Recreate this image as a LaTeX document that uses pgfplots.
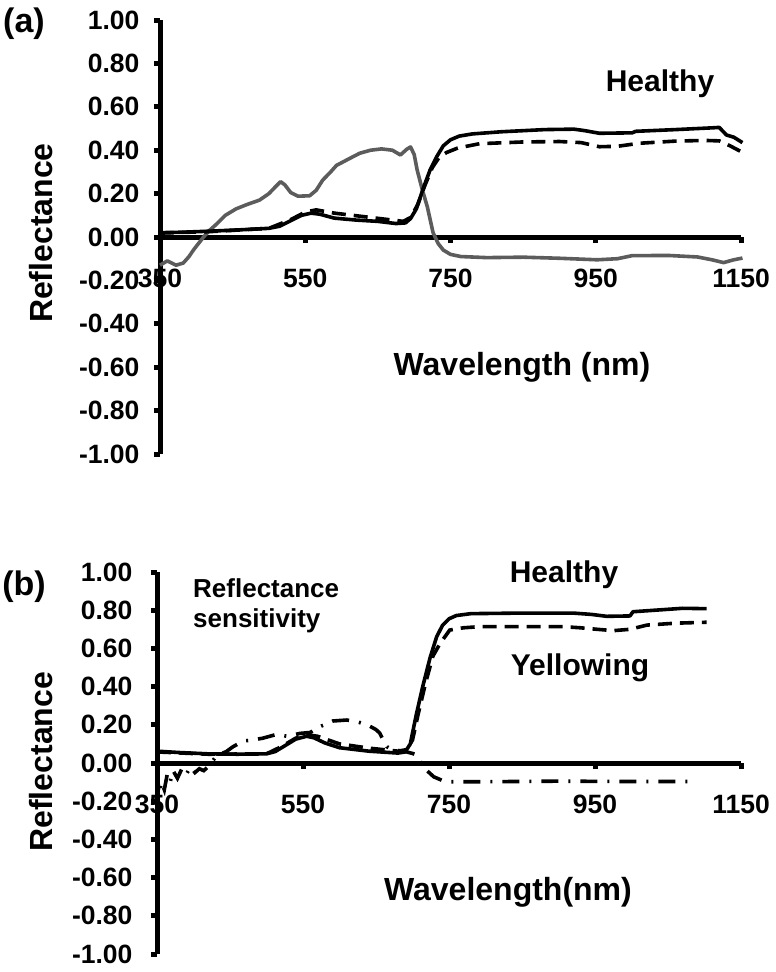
\documentclass[border=0pt]{standalone}
\usepackage{fontspec}
\setmainfont{Liberation Sans}
\usepackage{pgfplots}
\pgfplotsset{compat=1.18}

\definecolor{curvegray}{RGB}{92,92,92}

\pgfplotsset{
  panel/.style={
    axis x line*=middle,
    axis y line*=left,
    xmin=350, xmax=1150,
    ymin=-1, ymax=1,
    xtick={350,550,750,950,1150},
    ytick={-1,-0.8,...,1.01},
    hide obscured x ticks=false,
    hide obscured y ticks=false,
    axis line style={line width=5pt},
    tick style={line width=5pt, black},
    tick align=outside,
    major tick length=6pt,
    /pgf/number format/assume math mode=true,
    yticklabel style={/pgf/number format/fixed, /pgf/number format/fixed zerofill, /pgf/number format/precision=2},
    xticklabel style={/pgf/number format/fixed, /pgf/number format/precision=0, /pgf/number format/1000 sep={}},
    ticklabel style={font=\fontsize{26.5}{26.5}\selectfont\bfseries},
    label style={font=\fontsize{32}{32}\selectfont\bfseries},
    clip=false,
  },
  solidc/.style={black, line width=3.6pt, line join=round},
  dashc/.style={black, line width=3.6pt, dash pattern=on 14pt off 8pt},
  grayc/.style={curvegray, line width=3.6pt, line join=round},
  dotc/.style={black, line width=3.6pt, dash pattern=on 17pt off 10pt on 2pt off 10pt},
}

\begin{document}
\begin{tikzpicture}
\useasboundingbox (0,0) rectangle (776pt,-972pt);

% ---------- panel (a)
\begin{axis}[panel,
  x=0.72625pt, y=217pt,
  at={(160pt,-454pt)}, anchor=south west,
  xticklabel style={yshift=-22pt},
  yticklabel style={xshift=-11pt},
  xlabel={Wavelength (nm)},
  xlabel style={at={(axis description cs:0.623,0.180)}, anchor=base},
  ylabel={Reflectance},
  ylabel style={at={(axis description cs:-0.205,0.509)}, anchor=center, rotate=0},
]
\addplot[grayc] coordinates {
(350,-0.13) (360,-0.11) (372,-0.13) (382,-0.12) (390,-0.09) (396,-0.06)
(403,-0.03) (410,0.00) (418,0.03) (428,0.06) (440,0.10) (455,0.13)
(470,0.15) (487,0.17) (500,0.20) (510,0.235) (516,0.255) (522,0.24)
(530,0.205) (540,0.188) (556,0.19) (565,0.215) (574,0.262) (585,0.30)
(593,0.33) (610,0.36) (625,0.386) (640,0.40) (655,0.406) (670,0.400)
(681,0.378) (690,0.405) (695,0.415) (700,0.38) (704,0.31) (711,0.22)
(718,0.14) (726,0.02) (733,-0.03) (740,-0.06) (750,-0.08) (764,-0.09)
(800,-0.095) (850,-0.093) (900,-0.098) (952,-0.105) (980,-0.100)
(1000,-0.086) (1050,-0.085) (1090,-0.092) (1110,-0.105) (1126,-0.118)
(1140,-0.105) (1152,-0.097)
};
\addplot[dashc] coordinates {
(350,0.018) (420,0.025) (500,0.040) (530,0.080) (550,0.115) (565,0.125)
(590,0.110) (630,0.094) (670,0.078) (685,0.072) (695,0.090) (705,0.150)
(715,0.240) (725,0.320) (735,0.370) (745,0.390) (760,0.410) (790,0.430)
(850,0.438) (900,0.440) (930,0.435) (955,0.416) (980,0.418) (1010,0.432)
(1060,0.442) (1100,0.445) (1120,0.443) (1135,0.420) (1152,0.390)
};
\addplot[solidc] coordinates {
(350,0.020) (380,0.022) (420,0.027) (460,0.033) (500,0.040) (515,0.050)
(530,0.075) (545,0.100) (558,0.110) (570,0.105) (590,0.087) (620,0.078)
(650,0.072) (675,0.062) (688,0.065) (695,0.085) (703,0.130) (712,0.220)
(722,0.310) (731,0.370) (740,0.420) (750,0.448) (762,0.465) (780,0.475)
(820,0.485) (880,0.495) (920,0.497) (935,0.490) (955,0.478) (1000,0.480)
(1005,0.487) (1060,0.495) (1110,0.503) (1120,0.505) (1130,0.470)
(1140,0.460) (1152,0.435)
};
\end{axis}

% ---------- panel (b)
\begin{axis}[panel,
  x=0.73pt, y=191pt,
  at={(157pt,-954pt)}, anchor=south west,
  xticklabel style={yshift=-22pt},
  yticklabel style={xshift=-15pt},
  xlabel={Wavelength(nm)},
  xlabel style={at={(axis description cs:0.601,0.141)}, anchor=base},
  ylabel={Reflectance},
  ylabel style={at={(axis description cs:-0.199,0.503)}, anchor=center, rotate=0},
]
\addplot[dotc] coordinates {
(350,-0.05) (353,-0.16) (356,-0.10) (360,-0.14) (364,-0.06) (368,-0.10)
(372,-0.04) (378,-0.08) (384,-0.03) (390,-0.06) (396,-0.02) (402,-0.05)
(408,-0.03) (414,-0.04) (420,-0.02) (432,0.04) (445,0.06) (454,0.085)
(468,0.115) (480,0.12) (495,0.13) (514,0.15) (528,0.14) (546,0.155)
(560,0.160) (573,0.19) (591,0.22) (610,0.225) (625,0.215) (638,0.20)
(650,0.175) (655,0.157) (660,0.12) (665,0.085) (672,0.07) (690,0.06)
(700,0.05) (706,0.042) (712,0.00) (719,-0.037) (729,-0.072) (740,-0.090)
(748,-0.098) (800,-0.098) (900,-0.095) (1000,-0.097) (1090,-0.097)
};
\addplot[dashc] coordinates {
(350,0.058) (420,0.046) (500,0.048) (520,0.085) (540,0.130) (555,0.148)
(570,0.140) (600,0.100) (640,0.078) (680,0.062) (692,0.070) (700,0.120)
(708,0.260) (718,0.420) (728,0.560) (738,0.627) (751,0.696) (770,0.708)
(792,0.714) (906,0.714) (930,0.708) (953,0.700) (975,0.693) (998,0.700)
(1021,0.722) (1060,0.732) (1103,0.737)
};
\addplot[solidc] coordinates {
(350,0.062) (380,0.055) (420,0.048) (460,0.046) (500,0.048) (512,0.060)
(525,0.090) (540,0.125) (555,0.140) (565,0.132) (580,0.105) (600,0.080)
(640,0.062) (680,0.052) (690,0.058) (697,0.100) (705,0.250) (714,0.400)
(724,0.550) (733,0.660) (741,0.720) (750,0.755) (760,0.772) (780,0.782)
(850,0.785) (920,0.785) (945,0.778) (966,0.768) (998,0.770) (1002,0.792)
(1040,0.802) (1070,0.810) (1103,0.808)
};
\end{axis}

% ---------- annotations
\begin{scope}[every node/.style={font=\bfseries, inner sep=0pt}]
\node[font=\fontsize{34}{34}\selectfont\bfseries] at (24pt,-24pt) {(a)};
\node[font=\fontsize{34}{34}\selectfont\bfseries] at (24pt,-587pt) {(b)};
\node[font=\fontsize{30}{30}\selectfont\bfseries, anchor=base] at (660pt,-91pt) {Healthy};
\node[font=\fontsize{30}{30}\selectfont\bfseries, anchor=base] at (564pt,-582pt) {Healthy};
\node[font=\fontsize{30}{30}\selectfont\bfseries, anchor=base] at (580pt,-675pt) {Yellowing};
\node[font=\fontsize{26}{30}\selectfont\bfseries, anchor=base west, align=left] at (193pt,-627pt) {Reflectance\\sensitivity};
\end{scope}
\end{tikzpicture}
\end{document}
